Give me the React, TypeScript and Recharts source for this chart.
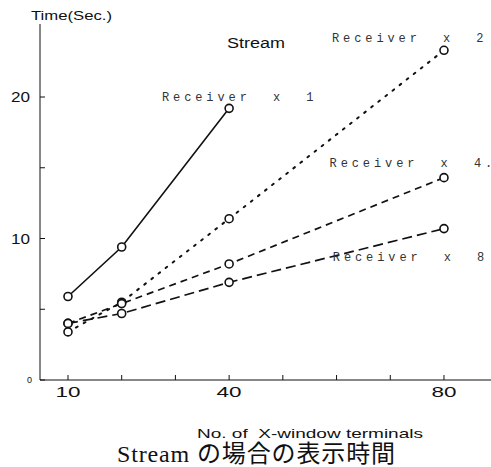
import { LineChart, Line, XAxis, YAxis, ReferenceDot } from "recharts"

// x values (number of X-window terminals)
const terminalsShort = [10, 20, 40]
const terminals = [10, 20, 40, 80]

// display time in seconds, per receiver count
const timeRecv1 = [5.9, 9.4, 19.2]
const timeRecv2 = [3.4, 5.5, 11.4, 23.3]
const timeRecv4 = [4.0, 5.4, 8.2, 14.3]
const timeRecv8 = [4.0, 4.7, 6.9, 10.7]

const xTicks = [10, 20, 30, 40, 50, 60, 70, 80]
const xTickLabels = [10, 40, 80]
const yTicks = [0, 5, 10, 15, 20]
const yTickLabels = [0, 10, 20]

// annotation text anchored in data units
const notes = [
  { n: 27.5, t: 19.7, text: "Receiver  x  1" },
  { n: 59.15, t: 23.9, text: "Receiver  x  2" },
  { n: 58.7, t: 15.05, text: "Receiver  x  4." },
  { n: 59.3, t: 8.4, text: "Receiver  x  8" },
]
const title = { n: 39.6, t: 23.45, text: "Stream" }

const toSeries = (xs: number[], ys: number[]) => ys.map((t, i) => ({ n: xs[i], t }))

const INK = "#111"
const SANS = "'Liberation Sans', Arial, sans-serif"
const MONO = "'Liberation Mono', 'DejaVu Sans Mono', monospace"

const dot = { r: 4, stroke: INK, strokeWidth: 1.6, fill: "#fff", strokeDasharray: "none" }

const XTick = (p: any) => {
  const v = p.payload.value
  if (!xTickLabels.includes(v)) return <g />
  return (
    <text x={p.x} y={p.y} dy="0.71em" textAnchor="middle" fontSize={15} fontFamily={SANS} fill={INK}
      textLength={25} lengthAdjust="spacingAndGlyphs">
      {v}
    </text>
  )
}

const YTick = (p: any) => {
  const v = p.payload.value
  if (!yTickLabels.includes(v)) return <g />
  const small = v === 0
  return (
    <text x={p.x + (small ? 2 : 0)} y={p.y} dy="0.36em" textAnchor="end" fontSize={small ? 9 : 15}
      fontFamily={SANS} fill={INK} textLength={small ? undefined : 19} lengthAdjust="spacingAndGlyphs">
      {v}
    </text>
  )
}

export default function App() {
  const s1 = toSeries(terminalsShort, timeRecv1)
  const s2 = toSeries(terminals, timeRecv2)
  const s4 = toSeries(terminals, timeRecv4)
  const s8 = toSeries(terminals, timeRecv8)

  return (
    <div style={{ position: "absolute", left: 0, top: 0, width: 491, height: 467, overflow: "hidden", background: "#fff" }}>
      <LineChart width={500} height={467} margin={{ top: 24, right: 8, left: 0, bottom: 0 }}>
        <XAxis
          xAxisId="bottom"
          dataKey="n"
          type="number"
          domain={[4.79, 88.94]}
          ticks={xTicks}
          allowDataOverflow
          height={87}
          stroke={INK}
          tickSize={-5}
          tickMargin={11}
          tick={XTick}
          label={{
            content: (props: any) => {
              const vb = props.viewBox
              const cx = vb.x + vb.width / 2
              return (
                <g>
                  <text x={cx + 44} y={vb.y + 58} textAnchor="middle" fontSize={13} fontFamily={SANS} fill={INK}
                    textLength={226} lengthAdjust="spacingAndGlyphs" xmlSpace="preserve">
                    No. of  X-window terminals
                  </text>
                  <text x={cx - 10} y={vb.y + 82} textAnchor="middle" fontSize={24}
                    fontFamily="'Liberation Serif', 'Noto Sans CJK JP', serif" fill={INK}
                    textLength={278} lengthAdjust="spacing">
                    Stream の場合の表示時間
                  </text>
                </g>
              )
            },
          }}
        />
        <XAxis
          xAxisId="top"
          orientation="top"
          dataKey="n"
          type="number"
          domain={[4.79, 88.94]}
          ticks={xTicks}
          allowDataOverflow
          height={0}
          stroke={INK}
          tickSize={-5}
          tickFormatter={() => ""}
        />
        <YAxis
          yAxisId="left"
          type="number"
          domain={[0, 25.16]}
          ticks={yTicks}
          allowDataOverflow
          width={40}
          stroke={INK}
          tickSize={-5}
          tickMargin={15}
          tick={YTick}
          label={{
            content: (props: any) => {
              const vb = props.viewBox
              return (
                <text x={vb.x + 31} y={vb.y - 4} fontSize={13} fontFamily={SANS} fill={INK}
                  textLength={81} lengthAdjust="spacingAndGlyphs">
                  Time(Sec.)
                </text>
              )
            },
          }}
        />
        <YAxis
          yAxisId="right"
          orientation="right"
          type="number"
          domain={[0, 25.16]}
          ticks={yTicks}
          allowDataOverflow
          width={0}
          stroke={INK}
          tickSize={-4}
          tickFormatter={() => ""}
        />

        <Line data={s1} dataKey="t" xAxisId="bottom" yAxisId="left" type="linear" stroke={INK}
          strokeWidth={1.6} dot={dot} activeDot={false} isAnimationActive={false} />
        <Line data={s2} dataKey="t" xAxisId="bottom" yAxisId="left" type="linear" stroke={INK}
          strokeWidth={2} strokeDasharray="2 7" strokeLinecap="round" dot={dot} activeDot={false} isAnimationActive={false} />
        <Line data={s4} dataKey="t" xAxisId="bottom" yAxisId="left" type="linear" stroke={INK}
          strokeWidth={1.7} strokeDasharray="7 5" dot={dot} activeDot={false} isAnimationActive={false} />
        <Line data={s8} dataKey="t" xAxisId="bottom" yAxisId="left" type="linear" stroke={INK}
          strokeWidth={1.7} strokeDasharray="10 5" dot={dot} activeDot={false} isAnimationActive={false} />

        {notes.map((a) => (
          <ReferenceDot key={a.text} x={a.n} y={a.t} xAxisId="bottom" yAxisId="left" r={0}
            shape={(p: any) => (
              <text x={p.cx} y={p.cy} fontSize={12} fontFamily={MONO} letterSpacing={3.9} fill="#333"
                xmlSpace="preserve" style={{ whiteSpace: "pre" }}>
                {a.text}
              </text>
            )}
          />
        ))}
        <ReferenceDot x={title.n} y={title.t} xAxisId="bottom" yAxisId="left" r={0}
          shape={(p: any) => (
            <text x={p.cx} y={p.cy} fontSize={14} fontFamily={SANS} fill={INK} textLength={58} lengthAdjust="spacingAndGlyphs">
              {title.text}
            </text>
          )}
        />
      </LineChart>
    </div>
  )
}
